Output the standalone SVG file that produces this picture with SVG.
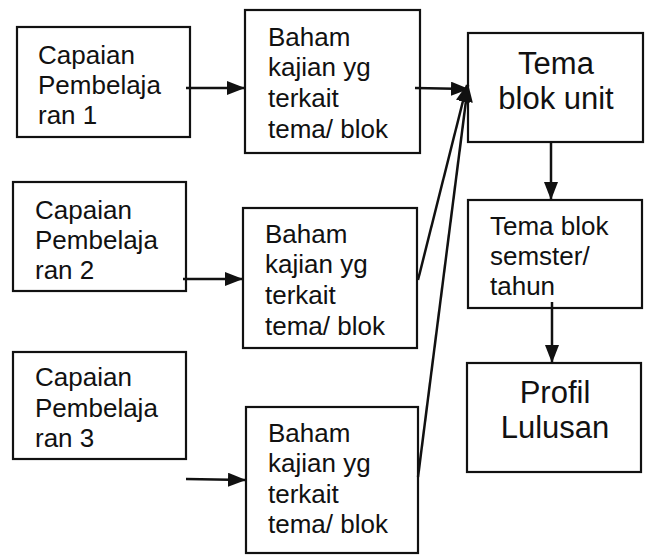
<svg xmlns="http://www.w3.org/2000/svg" width="647" height="556" viewBox="0 0 647 556">
<style>
.box{fill:#fff;stroke:#111;stroke-width:2.2}
.t{font-family:"Liberation Sans",Arial,sans-serif;font-size:26px;fill:#111}
.tb{font-family:"Liberation Sans",Arial,sans-serif;font-size:31px;fill:#111;text-anchor:middle}
.c{stroke:#111;stroke-width:2.5;fill:none}
</style>
<defs>
<marker id="ah" markerWidth="10" markerHeight="8" refX="9" refY="4" orient="auto" markerUnits="userSpaceOnUse" viewBox="0 0 10 8">
<path d="M0,0 L10,4 L0,8 Z" fill="#111"/>
</marker>
<marker id="ahl" markerWidth="18" markerHeight="14" refX="17" refY="7" orient="auto" markerUnits="userSpaceOnUse" viewBox="0 0 18 14">
<path d="M0,0 L18,7 L0,14 Z" fill="#111"/>
</marker>
</defs>
<rect width="647" height="556" fill="#fff"/>
<g id="cp1"><rect class="box" x="17" y="27" width="173" height="110"/>
<text class="t" x="38"><tspan x="38" y="64">Capaian</tspan><tspan x="38" y="94">Pembelaja</tspan><tspan x="38" y="124">ran 1</tspan></text></g>
<g id="cp2"><rect class="box" x="13" y="182" width="173" height="109"/>
<text class="t"><tspan x="35" y="219">Capaian</tspan><tspan x="35" y="249">Pembelaja</tspan><tspan x="35" y="279">ran 2</tspan></text></g>
<g id="cp3"><rect class="box" x="13" y="352" width="173" height="107"/>
<text class="t"><tspan x="35" y="386">Capaian</tspan><tspan x="35" y="417">Pembelaja</tspan><tspan x="35" y="447">ran 3</tspan></text></g>
<g id="bk1"><rect class="box" x="245" y="10" width="175" height="143"/>
<text class="t"><tspan x="268" y="46">Baham</tspan><tspan x="268" y="76">kajian yg</tspan><tspan x="268" y="107">terkait</tspan><tspan x="268" y="138">tema/ blok</tspan></text></g>
<g id="bk2"><rect class="box" x="243" y="208" width="174" height="140"/>
<text class="t"><tspan x="265" y="243">Baham</tspan><tspan x="265" y="273">kajian yg</tspan><tspan x="265" y="304">terkait</tspan><tspan x="265" y="335">tema/ blok</tspan></text></g>
<g id="bk3"><rect class="box" x="246" y="407" width="172" height="146"/>
<text class="t"><tspan x="268" y="442">Baham</tspan><tspan x="268" y="472">kajian yg</tspan><tspan x="268" y="503">terkait</tspan><tspan x="268" y="533">tema/ blok</tspan></text></g>
<g id="tema"><rect class="box" x="468" y="33" width="175" height="109"/>
<text class="tb"><tspan x="556" y="74">Tema</tspan><tspan x="556" y="109">blok unit</tspan></text></g>
<g id="semester"><rect class="box" x="468" y="200" width="174" height="108"/>
<text class="t"><tspan x="490" y="235">Tema blok</tspan><tspan x="490" y="265">semster/</tspan><tspan x="490" y="295">tahun</tspan></text></g>
<g id="profil"><rect class="box" x="467" y="363" width="174" height="109"/>
<text class="tb"><tspan x="555" y="403">Profil</tspan><tspan x="555" y="438">Lulusan</tspan></text></g>
<g id="connectors">
<line class="c" x1="186" y1="88" x2="244" y2="88" marker-end="url(#ahl)"/>
<line class="c" x1="183" y1="279" x2="242" y2="279" marker-end="url(#ahl)"/>
<line class="c" x1="186" y1="479" x2="245" y2="480" marker-end="url(#ahl)"/>
<line class="c" x1="415" y1="88" x2="468" y2="89" marker-end="url(#ahl)"/>
<line class="c" x1="418" y1="280" x2="467" y2="85" marker-end="url(#ahl)"/>
<line class="c" x1="418" y1="477" x2="468" y2="85" marker-end="url(#ahl)"/>
<line class="c" x1="551" y1="142" x2="551" y2="199" marker-end="url(#ahl)"/>
<line class="c" x1="552" y1="302" x2="552" y2="362" marker-end="url(#ahl)"/>
</g>
</svg>
